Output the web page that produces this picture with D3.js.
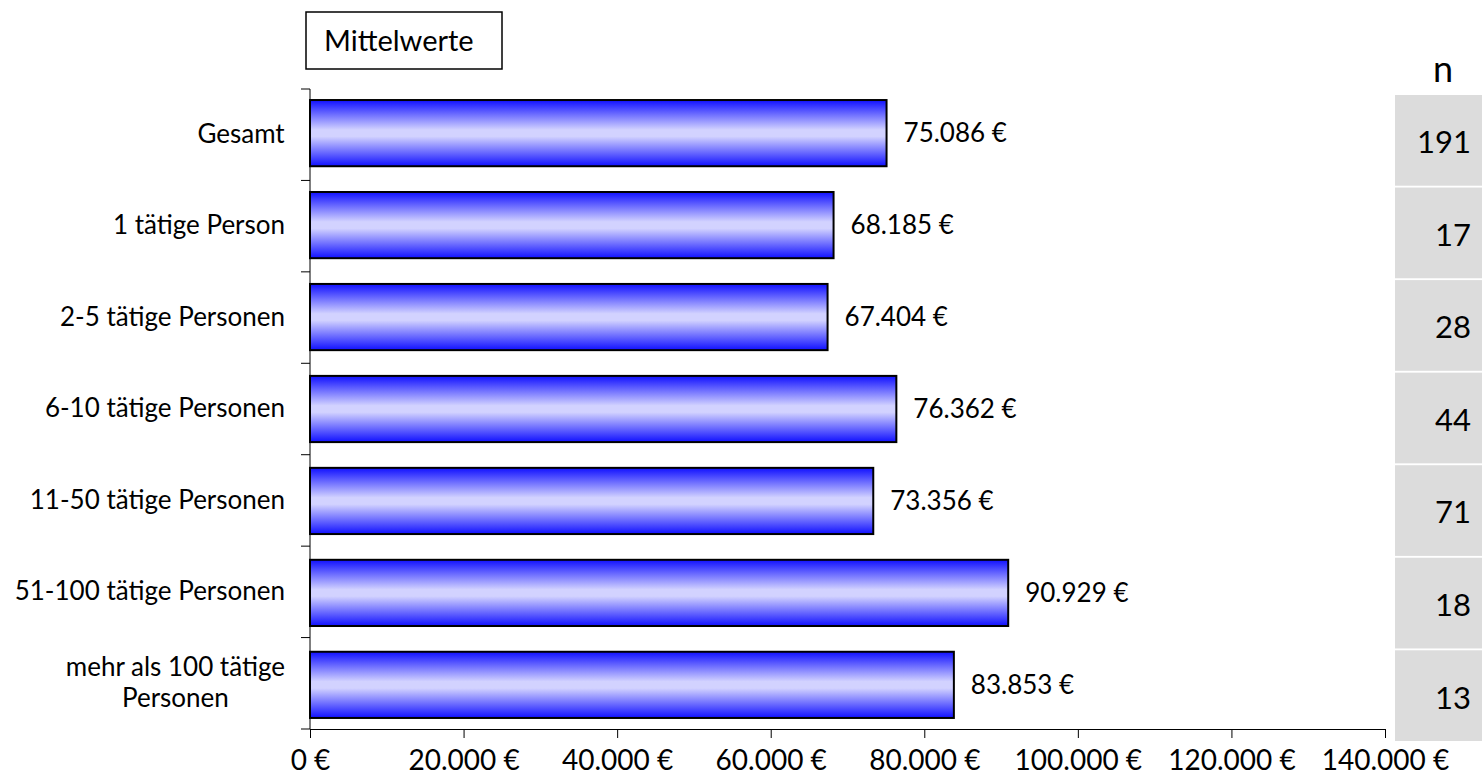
<!DOCTYPE html>
<html>
<head>
<meta charset="utf-8">
<script src="https://cdn.jsdelivr.net/npm/d3@7"></script>
<style>
  html, body { margin: 0; padding: 0; background: #fff; }
  svg { display: block; }
  text { font-family: "Lato", "DejaVu Sans", sans-serif; fill: #000; }
</style>
</head>
<body>
<svg id="chart" width="1482" height="778"></svg>
<script>
const categories = ["Gesamt", "1 tätige Person", "2-5 tätige Personen", "6-10 tätige Personen", "11-50 tätige Personen", "51-100 tätige Personen", "mehr als 100 tätige Personen"];
const categoryLines = [["Gesamt"], ["1 tätige Person"], ["2-5 tätige Personen"], ["6-10 tätige Personen"], ["11-50 tätige Personen"], ["51-100 tätige Personen"], ["mehr als 100 tätige", "Personen"]];
const values = [75086, 68185, 67404, 76362, 73356, 90929, 83853];
const nValues = [191, 17, 28, 44, 71, 18, 13];
const xTicks = [0, 20000, 40000, 60000, 80000, 100000, 120000, 140000];
const legendLabel = "Mittelwerte";
const nLabel = "n";

(function () {
const svg = d3.select("#chart");
const pLeft = 310, pRight = 1385, pTop = 89, pBottom = 729;

const fmt = v => d3.format(",")(v).replace(/,/g, ".") + " €";

const x = d3.scaleLinear().domain([0, 140000]).range([pLeft, pRight]);
const y = d3.scaleBand().domain(categories).range([pTop, pBottom]).paddingInner(0.28).paddingOuter(0.12);
const yOuter = d3.scaleBand().domain(categories).range([pTop, pBottom]);

// gradient
const defs = svg.append("defs");
const grad = defs.append("linearGradient").attr("id", "barGrad").attr("x1", 0).attr("y1", 0).attr("x2", 0).attr("y2", 1);
grad.append("stop").attr("offset", "0%").attr("stop-color", "#1010ff");
grad.append("stop").attr("offset", "45%").attr("stop-color", "#d2d2ff");
grad.append("stop").attr("offset", "55%").attr("stop-color", "#d2d2ff");
grad.append("stop").attr("offset", "100%").attr("stop-color", "#1010ff");

// bars
svg.append("g").selectAll("rect").data(values).join("rect")
  .attr("x", x(0))
  .attr("y", (d, i) => y(categories[i]))
  .attr("width", d => x(d) - x(0))
  .attr("height", y.bandwidth())
  .attr("fill", "url(#barGrad)")
  .attr("stroke", "#000")
  .attr("stroke-width", 2);

// value labels
svg.append("g").selectAll("text").data(values).join("text")
  .attr("x", d => x(d) + 17)
  .attr("y", (d, i) => y(categories[i]) + y.bandwidth() / 2)
  .attr("dy", "0.35em")
  .attr("font-size", 26)
  .text(d => fmt(d));

// y axis
const yAxisG = svg.append("g");
yAxisG.append("line").attr("x1", pLeft).attr("x2", pLeft).attr("y1", pTop).attr("y2", pBottom).attr("stroke", "#000").attr("stroke-width", 1);
const boundaries = categories.map(c => yOuter(c)).concat([pBottom]);
yAxisG.selectAll("line.tk").data(boundaries).join("line").attr("class", "tk")
  .attr("x1", pLeft - 9).attr("x2", pLeft).attr("y1", d => d).attr("y2", d => d)
  .attr("stroke", "#000").attr("stroke-width", 1);

// category labels
const labG = svg.append("g");
categoryLines.forEach((lines, i) => {
  const cy = yOuter(categories[i]) + yOuter.bandwidth() / 2 - 1;
  const t = labG.append("text").attr("font-size", 26).attr("text-anchor", "middle");
  const lh = 31;
  lines.forEach((ln, j) => {
    t.append("tspan").attr("x", 0).attr("y", cy + (j - (lines.length - 1) / 2) * lh).attr("dy", "0.35em").text(ln);
  });
  const w = t.node().getBBox().width;
  t.attr("transform", `translate(${285 - w / 2},0)`);
});

// x axis
const xAxis = d3.axisBottom(x).tickValues(xTicks).tickSize(9).tickSizeOuter(0).tickFormat(fmt);
const xg = svg.append("g").attr("transform", `translate(0,${pBottom})`).call(xAxis);
xg.select(".domain").attr("stroke", "#000");
xg.selectAll(".tick line").attr("stroke", "#000");
xg.selectAll(".tick text").attr("font-size", 28).attr("font-family", "Lato, sans-serif").attr("fill", "#000").attr("y", 41).attr("dy", 0);

// legend box
svg.append("rect").attr("x", 306).attr("y", 12).attr("width", 196).attr("height", 57)
  .attr("fill", "#fff").attr("stroke", "#000").attr("stroke-width", 1.5);
svg.append("text").attr("x", 324).attr("y", 41).attr("dy", "0.35em").attr("font-size", 29).text(legendLabel);

// n column
svg.append("text").attr("x", 1443).attr("y", 82).attr("text-anchor", "middle").attr("font-size", 36).text(nLabel);
const nTop = 95, nBottom = 741;
const yN = d3.scaleBand().domain(categories).range([nTop, nBottom]).paddingInner(0.02);
const nG = svg.append("g");
nG.selectAll("rect").data(nValues).join("rect")
  .attr("x", 1395).attr("width", 87)
  .attr("y", (d, i) => yN(categories[i]))
  .attr("height", yN.bandwidth())
  .attr("fill", "#dcdcdc");
nG.selectAll("text").data(nValues).join("text")
  .attr("x", 1471).attr("text-anchor", "end")
  .attr("y", (d, i) => yN(categories[i]) + yN.bandwidth() / 2 + 2)
  .attr("dy", "0.35em")
  .attr("font-size", 31)
  .text(d => d);
})();
</script>
</body>
</html>
